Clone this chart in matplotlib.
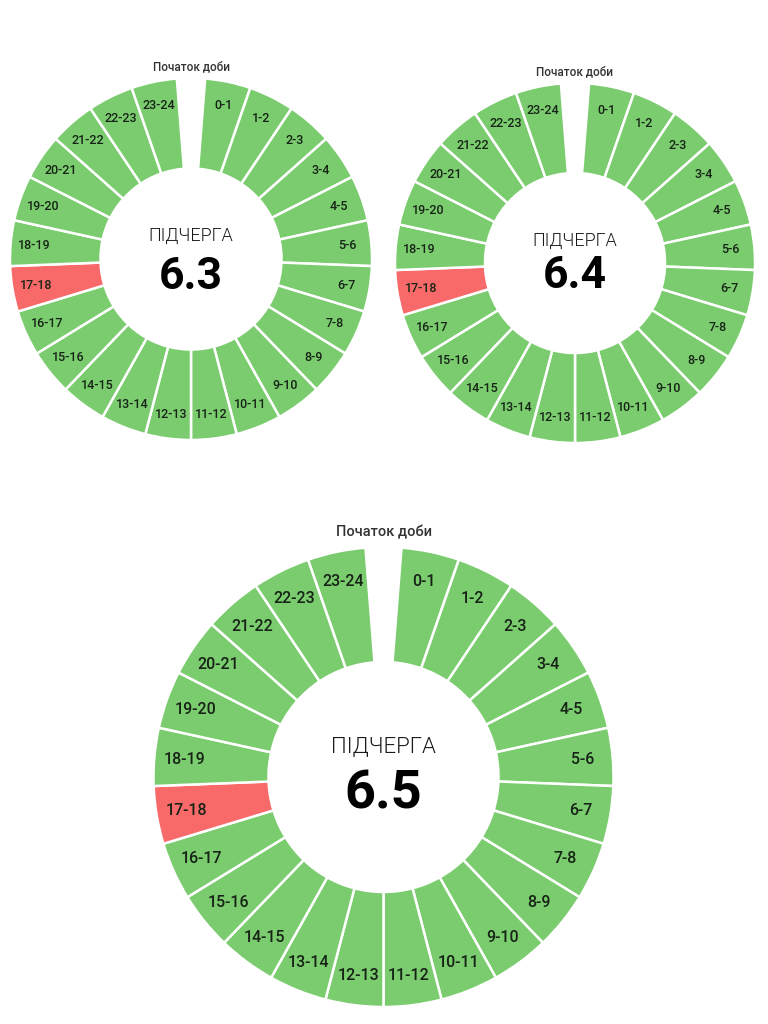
import matplotlib.pyplot as plt

# hourly slots of the day, starting at the top of each ring
hours = ["0-1", "1-2", "2-3", "3-4", "4-5", "5-6", "6-7", "7-8", "8-9", "9-10",
         "10-11", "11-12", "12-13", "13-14", "14-15", "15-16", "16-17", "17-18",
         "18-19", "19-20", "20-21", "21-22", "22-23", "23-24"]

subqueues = ["6.3", "6.4", "6.5"]
# 1 = power off in this hour, 0 = power on
status_6_3 = [0, 0, 0, 0, 0, 0, 0, 0, 0, 0, 0, 0, 0, 0, 0, 0, 0, 1, 0, 0, 0, 0, 0, 0]
status_6_4 = [0, 0, 0, 0, 0, 0, 0, 0, 0, 0, 0, 0, 0, 0, 0, 0, 0, 1, 0, 0, 0, 0, 0, 0]
status_6_5 = [0, 0, 0, 0, 0, 0, 0, 0, 0, 0, 0, 0, 0, 0, 0, 0, 0, 1, 0, 0, 0, 0, 0, 0]

GREEN = '#7acc6e'
RED = '#f86a6a'
GAP_DEG = 9.0
W, H = 768, 1024

plt.rcParams['font.family'] = ['Roboto', 'DejaVu Sans']

fig = plt.figure(figsize=(W / 100, H / 100), dpi=100)


def donut(cx, cy, r, name, status, label_fs, top_fs, sub_fs, num_fs, sub_y, num_y):
    ax = fig.add_axes([(cx - r) / W, 1 - (cy + r) / H, 2 * r / W, 2 * r / H])
    slot = (360 - GAP_DEG) / len(hours)
    values = [1] * len(hours) + [GAP_DEG / slot]
    colors = [RED if s else GREEN for s in status] + ['none']
    wedges, texts = ax.pie(values, colors=colors, labels=hours + [''],
                           startangle=90 - GAP_DEG / 2, counterclock=False,
                           labeldistance=0.868, radius=1,
                           wedgeprops=dict(width=0.5, edgecolor='white', linewidth=1.8),
                           textprops=dict(fontsize=label_fs, color='#162316',
                                          fontweight='medium'))
    wedges[-1].set_edgecolor('none')
    for t in texts:
        t.set_ha('center')
        t.set_va('center')
    ax.set_xlim(-1, 1)
    ax.set_ylim(-1, 1)
    ax.set_aspect('equal')
    ax.axis('off')

    ax.text(0, 1.064, 'Початок доби', ha='center', va='center',
            fontsize=top_fs, fontweight='medium', color='#333333')
    ax.text(0, sub_y, 'ПІДЧЕРГА', ha='center', va='baseline',
            fontsize=sub_fs, fontweight=300, color='#1a1a1a')
    ax.text(0, num_y, name, ha='center', va='baseline',
            fontsize=num_fs, fontweight='bold', color='#000000')


donut(191, 259, 181, subqueues[0], status_6_3, 9, 8.5, 13, 32, 0.099, -0.166)
donut(575, 263, 180, subqueues[1], status_6_4, 9, 8.5, 13, 32, 0.096, -0.139)
donut(383.5, 777, 230, subqueues[2], status_6_5, 11.5, 10.5, 16, 39, 0.109, -0.135)

fig.savefig('out.png', dpi=100, facecolor='white')
